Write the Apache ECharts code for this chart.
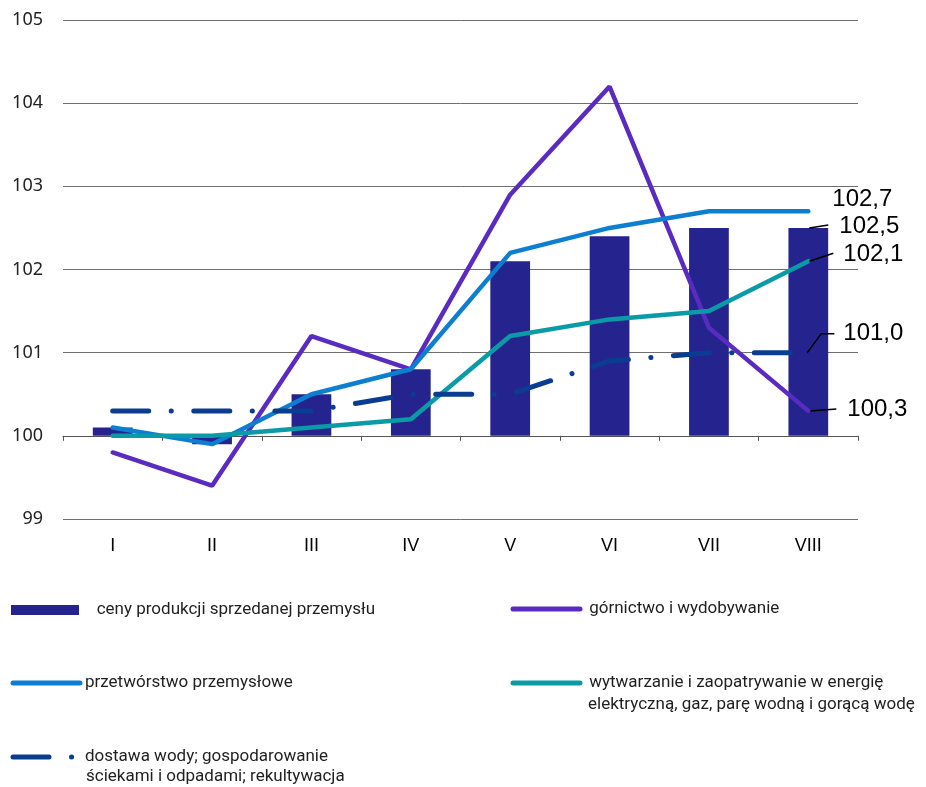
<!DOCTYPE html>
<html><head><meta charset="utf-8">
<script src="https://cdn.jsdelivr.net/npm/echarts@6/dist/echarts.min.js"></script>
<style>html,body{margin:0;padding:0;background:#fff}#c{width:926px;height:787px}</style>
</head><body><div id="c"></div>
<script>
const categories = ['I','II','III','IV','V','VI','VII','VIII'];
const cenyProdukcji = [100.1, 99.9, 100.5, 100.8, 102.1, 102.4, 102.5, 102.5];
const gornictwo = [99.8, 99.4, 101.2, 100.8, 102.9, 104.2, 101.3, 100.3];
const przetworstwo = [100.1, 99.9, 100.5, 100.8, 102.2, 102.5, 102.7, 102.7];
const wytwarzanie = [100.0, 100.0, 100.1, 100.2, 101.2, 101.4, 101.5, 102.1];
const dostawa = [100.3, 100.3, 100.3, 100.5, 100.5, 100.9, 101.0, 101.0];
const yMin = 99, yMax = 105, yStep = 1, baseValue = 100;

const names = {
  ceny: 'ceny produkcji sprzedanej przemysłu',
  gorn: 'górnictwo i wydobywanie',
  przet: 'przetwórstwo przemysłowe',
  wytw: 'wytwarzanie i zaopatrywanie w energię elektryczną, gaz, parę wodną i gorącą wodę',
  dost: 'dostawa wody; gospodarowanie ściekami i odpadami; rekultywacja'
};
// legend first lines (formatter) and second lines (graphic text)
const legendLine1 = {};
legendLine1[names.ceny] = '   ceny produkcji sprzedanej przemysłu';
legendLine1[names.gorn] = ' górnictwo i wydobywanie';
legendLine1[names.przet] = 'przetwórstwo przemysłowe';
legendLine1[names.wytw] = ' wytwarzanie i zaopatrywanie w energię';
legendLine1[names.dost] = 'dostawa wody; gospodarowanie';
const legendLine2 = [
  {text:'elektryczną, gaz, parę wodną i gorącą wodę', x:588, y:705},
  {text:'ściekami i odpadami; rekultywacja', x:86, y:777}
];

const colors = {ceny:'#25248f', gorn:'#5a2bc0', przet:'#0d7fd0', wytw:'#0a9ba6', dost:'#0a3d91'};
const last = categories.length - 1;
const fmt = v => v.toFixed(1).replace('.', ',');

// end annotations: text offset and leader points relative to the last point
const annotations = [
  {values: przetworstwo, tx: 24, ty: -12, lead: null},
  {values: cenyProdukcji, tx: 31, ty: -2, lead: [[1,0],[20,-3]]},
  {values: wytwarzanie, tx: 35, ty: -7, lead: [[1,0],[25,-8]]},
  {values: dostawa, tx: 35, ty: -19, lead: [[-1,0],[13,-19],[26,-19]]},
  {values: gornictwo, tx: 39, ty: -2, lead: [[2,0],[28,-2]]}
];

const legendFont = {fontFamily:'Roboto', fontSize:17, color:'#1f1f1f', lineHeight:22};
function lg(name, left, top, opts) {
  return Object.assign({
    left: left, top: top, orient:'horizontal', itemWidth:67, itemHeight:14, itemGap:0, padding:0,
    data:[name], selectedMode:false,
    formatter: n => legendLine1[n],
    itemStyle:{opacity:0},
    lineStyle:{width:5, cap:'round'},
    textStyle: Object.assign({}, legendFont)
  }, opts || {});
}

const lineBase = (name, data, color, extra) => Object.assign({
  name: name, type:'line', data: data, symbol:'none', smooth:false,
  lineStyle:{color: color, width:4.5, cap:'round'}, itemStyle:{color: color}, z:3
}, extra || {});

const option = {
  animation:false,
  grid:{left:63, right:68, top:20, bottom:268},
  xAxis:[
    {type:'category', data:categories, boundaryGap:true,
     axisLine:{show:false}, axisTick:{show:false},
     axisLabel:{fontFamily:'Liberation Sans', fontSize:18, color:'#000', margin:18}},
    {type:'category', data:categories, boundaryGap:true, position:'bottom', offset:-83.2,
     axisLine:{show:true, lineStyle:{color:'#555', width:1}},
     axisTick:{show:true, length:5, lineStyle:{color:'#555'}},
     axisLabel:{show:false}, splitLine:{show:false}}
  ],
  yAxis:{type:'value', min:yMin, max:yMax, interval:yStep,
    axisLine:{show:false}, axisTick:{show:false},
    axisLabel:{fontFamily:'Noto Sans', fontSize:18, color:'#222', margin:20},
    splitLine:{show:true, lineStyle:{color:'#6e6e6e', width:1}}},
  legend:[
    lg(names.ceny, 11, 599, {itemWidth:68, itemHeight:10, itemStyle:{}, data:[{name:names.ceny, icon:'rect'}]}),
    lg(names.gorn, 510.5, 598),
    lg(names.przet, 10.5, 672),
    lg(names.wytw, 510.5, 672),
    lg(names.dost, 10.5, 746)
  ],
  graphic: legendLine2.map(l => ({type:'text', x:l.x, y:l.y, silent:true,
    style:{text:l.text, fill:'#1f1f1f', font:'17px Roboto', textVerticalAlign:'middle', textAlign:'left'}})),
  series:[
    {name:names.ceny, type:'custom', z:1,
     data: cenyProdukcji.map((v,i)=>[i,v]),
     encode:{x:0, y:1},
     itemStyle:{color:colors.ceny},
     renderItem:(params, api)=>{
       const i = api.value(0), v = api.value(1);
       const p0 = api.coord([i, baseValue]), p1 = api.coord([i, v]);
       const w = api.size([1,0])[0]*0.4;
       return {type:'rect', shape:{x:p0[0]-w/2, y:Math.min(p0[1],p1[1]), width:w, height:Math.abs(p1[1]-p0[1])},
               style:{fill:colors.ceny}};
     }},
    lineBase(names.gorn, gornictwo, colors.gorn),
    lineBase(names.przet, przetworstwo, colors.przet),
    lineBase(names.wytw, wytwarzanie, colors.wytw),
    lineBase(names.dost, dostawa, colors.dost, {lineStyle:{color:colors.dost, width:5, cap:'round', type:[36,22.5,0.1,22.5]}}),
    {name:'annotations', type:'custom', z:10, silent:true,
     data: annotations.map((a,k)=>[last, a.values[last], k]),
     encode:{x:0, y:1},
     renderItem:(params, api)=>{
       const k = api.value(2), a = annotations[k];
       const p = api.coord([api.value(0), api.value(1)]);
       const children = [{type:'text', style:{x:p[0]+a.tx, y:p[1]+a.ty, text:fmt(api.value(1)),
         fill:'#000', font:'24px "Liberation Sans", Arial, sans-serif', textAlign:'left', textVerticalAlign:'middle'}}];
       if (a.lead) {
         children.push({type:'polyline', shape:{points:a.lead.map(q=>[p[0]+q[0], p[1]+q[1]])},
           style:{stroke:'#000', lineWidth:1.5, fill:null}});
       }
       return {type:'group', children: children};
     }}
  ]
};
const chart = echarts.init(document.getElementById('c'), null, {renderer:'canvas'});
chart.setOption(option);
</script></body></html>
